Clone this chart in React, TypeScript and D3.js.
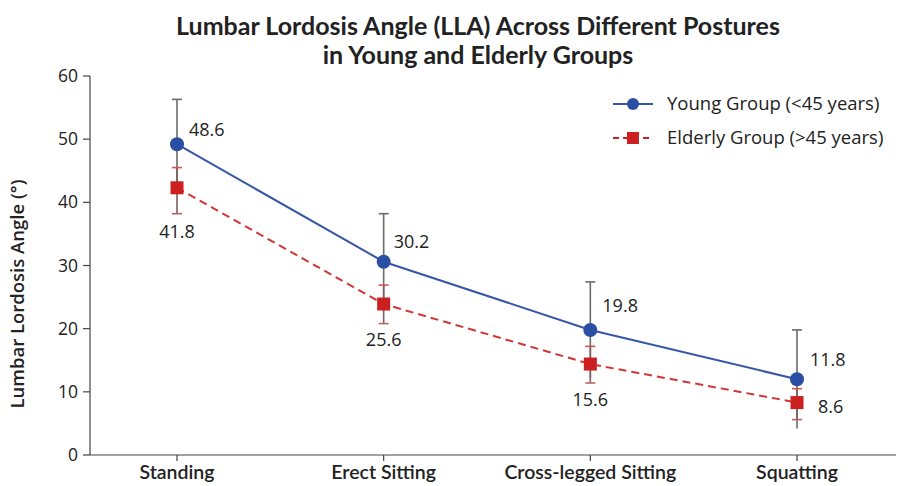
import React from "react";
import * as d3 from "d3";

const categories = ["Standing", "Erect Sitting", "Cross-legged Sitting", "Squatting"];
const youngValues = [49.2, 30.6, 19.8, 12.0];
const youngErr = [7.1, 7.6, 7.6, 7.8];
const youngLabels = ["48.6", "30.2", "19.8", "11.8"];
const elderlyValues = [42.3, 23.9, 14.4, 8.3];
const elderlyErrUp = [3.2, 3.0, 2.8, 2.2];
const elderlyErrDown = [4.1, 3.1, 3.0, 2.7];
const elderlyLabels = ["41.8", "25.6", "15.6", "8.6"];
const yTicks = [0, 10, 20, 30, 40, 50, 60];

// label placement offsets (layout only)
const youngLabelOffset = [[12, -15], [10, -20], [12, -24], [13, -20]];
const elderlyLabelOffset = [[0, 44], [0, 36], [0, 36], [21, 4]];
const elderlyAnchor = ["middle", "middle", "middle", "start"];

const W = 924;
const H = 486;
const BLUE = "#2a4ea3";
const BLUE_LINE = "#3656a8";
const RED = "#cc2020";
const GREY = "#6b6b6b";
const FONT = "'Open Sans', 'Noto Sans', sans-serif";
const TITLE_FONT = "Lato, 'Open Sans', sans-serif";

export default function App() {
  const x = d3.scalePoint<string>().domain(categories).range([177, 797]);
  const y = d3.scaleLinear().domain([0, 60]).range([455, 76]);
  const xLeft = 90;
  const xRight = 896;

  const line = d3
    .line<number>()
    .x((_, i) => x(categories[i]) as number)
    .y((d) => y(d));

  const cap = 5;

  return (
    <div style={{ position: "absolute", left: 0, top: 0 }}>
      <svg width={W} height={H} style={{ display: "block", background: "#fff" }}>
        <rect x={0} y={0} width={W} height={H} fill="#fff" />
        {/* Title */}
        <text x={478} y={35} textAnchor="middle" fontFamily={TITLE_FONT} fontWeight={700} fontSize={25} fill="#222">
          Lumbar Lordosis Angle (LLA) Across Different Postures
        </text>
        <text x={478} y={64} textAnchor="middle" fontFamily={TITLE_FONT} fontWeight={700} fontSize={25} fill="#222">
          in Young and Elderly Groups
        </text>

        {/* Axes */}
        <line x1={xLeft} x2={xLeft} y1={y(60)} y2={y(0)} stroke="#444" strokeWidth={1.2} />
        <line x1={xLeft} x2={xRight} y1={y(0)} y2={y(0)} stroke="#444" strokeWidth={1.2} />
        {yTicks.map((t) => (
          <g key={t}>
            <line x1={xLeft - 7} x2={xLeft} y1={y(t)} y2={y(t)} stroke="#444" strokeWidth={1.2} />
            <text x={xLeft - 12} y={y(t)} dy="0.35em" textAnchor="end" fontFamily={FONT} fontSize={17.5} fill="#222">
              {t}
            </text>
          </g>
        ))}
        {categories.map((c) => (
          <g key={c}>
            <line x1={x(c)} x2={x(c)} y1={y(0)} y2={y(0) + 6} stroke="#444" strokeWidth={1.2} />
            <text x={x(c)} y={479} textAnchor="middle" fontFamily={TITLE_FONT} fontWeight={600} fontSize={19.5} fill="#222">
              {c}
            </text>
          </g>
        ))}
        <text
          transform={`translate(24, ${294}) rotate(-90)`}
          textAnchor="middle"
          fontFamily={FONT}
          fontWeight={600}
          fontSize={18.5}
          fill="#222"
        >
          Lumbar Lordosis Angle (°)
        </text>

        {/* Young error bars */}
        {categories.map((c, i) => {
          const cx = x(c) as number;
          const top = y(youngValues[i] + youngErr[i]);
          const bot = y(youngValues[i] - youngErr[i]);
          return (
            <g key={"ye" + c}>
              <line x1={cx} x2={cx} y1={top} y2={bot} stroke={GREY} strokeWidth={1.6} />
              <line x1={cx - cap} x2={cx + cap} y1={top} y2={top} stroke={GREY} strokeWidth={1.6} />
            </g>
          );
        })}
        {/* Elderly error bars */}
        {categories.map((c, i) => {
          const cx = x(c) as number;
          const top = y(elderlyValues[i] + elderlyErrUp[i]);
          const bot = y(elderlyValues[i] - elderlyErrDown[i]);
          return (
            <g key={"ee" + c}>
              <line x1={cx} x2={cx} y1={top} y2={bot} stroke="#7a6060" strokeWidth={1.6} />
              <line x1={cx - cap} x2={cx + cap} y1={top} y2={top} stroke="#d85050" strokeWidth={1.6} />
              <line x1={cx - cap} x2={cx + cap} y1={bot} y2={bot} stroke="#c06060" strokeWidth={1.6} />
            </g>
          );
        })}

        {/* Lines */}
        <path d={line(youngValues) || ""} fill="none" stroke={BLUE_LINE} strokeWidth={2} />
        <path d={line(elderlyValues) || ""} fill="none" stroke={RED} strokeWidth={2} strokeDasharray="8,5" opacity={0.9} />

        {/* Markers */}
        {categories.map((c, i) => (
          <circle key={"yc" + c} cx={x(c)} cy={y(youngValues[i])} r={7} fill={BLUE} />
        ))}
        {categories.map((c, i) => (
          <rect key={"er" + c} x={(x(c) as number) - 6.5} y={y(elderlyValues[i]) - 6.5} width={13} height={13} fill={RED} />
        ))}

        {/* Value labels */}
        {categories.map((c, i) => (
          <text
            key={"yl" + c}
            x={(x(c) as number) + youngLabelOffset[i][0]}
            y={y(youngValues[i]) + youngLabelOffset[i][1]}
            dy="0.35em"
            fontFamily={FONT}
            fontSize={18}
            fill="#222"
          >
            {youngLabels[i]}
          </text>
        ))}
        {categories.map((c, i) => (
          <text
            key={"el" + c}
            x={(x(c) as number) + elderlyLabelOffset[i][0]}
            y={y(elderlyValues[i]) + elderlyLabelOffset[i][1]}
            dy="0.35em"
            textAnchor={elderlyAnchor[i] as any}
            fontFamily={FONT}
            fontSize={18}
            fill="#222"
          >
            {elderlyLabels[i]}
          </text>
        ))}

        {/* Legend */}
        <g>
          <line x1={613} x2={653} y1={104} y2={104} stroke={BLUE_LINE} strokeWidth={2} />
          <circle cx={633} cy={104} r={6} fill={BLUE} />
          <text x={667} y={104} dy="0.35em" fontFamily={FONT} fontSize={18.5} fill="#222">
            Young Group (&lt;45 years)
          </text>
          <line x1={613} x2={653} y1={138} y2={138} stroke={RED} strokeWidth={2} strokeDasharray="6,4" />
          <rect x={627} y={132} width={12} height={12} fill={RED} />
          <text x={667} y={138} dy="0.35em" fontFamily={FONT} fontSize={18.5} fill="#222">
            Elderly Group (&gt;45 years)
          </text>
        </g>
      </svg>
    </div>
  );
}
